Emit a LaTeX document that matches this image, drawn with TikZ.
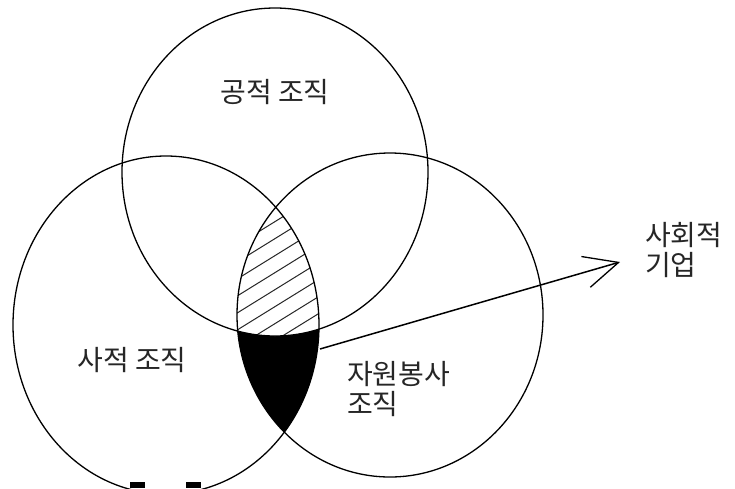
\documentclass[tikz,border=0pt]{standalone}
\usepackage{fontspec}
\newfontfamily\kr{Noto Sans CJK KR}
\usetikzlibrary{arrows.meta}
\tikzset{
  venn/.style={draw=black, line width=1.3pt},
  hatchline/.style={draw=black!85, line width=1pt},
  lbl/.style={font=\kr\fontsize{28}{30}\selectfont, text=black!85, inner sep=0pt},
  arrowline/.style={draw=black, line width=1.5pt, -{Straight Barb[length=34pt,width=32pt,line width=1.3pt]}}
}
\begin{document}
\begin{tikzpicture}[x=1pt,y=-1pt]
\useasboundingbox (0,0) rectangle (735,488);
\fill[white] (0,0) rectangle (735,488);
% lens region: black part, then hatched part inside the top circle
\begin{scope}
  \clip (166,325) ellipse [x radius=153pt, y radius=169pt];
  \clip (390,315) ellipse [x radius=153pt, y radius=162pt];
  \fill[black] (200,190) rectangle (360,450);
  \begin{scope}
    \clip (275,172) ellipse [x radius=153pt, y radius=164pt];
    \fill[white] (200,190) rectangle (360,450);
    \foreach \k in {-2,...,14} \draw[hatchline] (200,{200+17*\k}) -- ++(160,-99);
  \end{scope}
\end{scope}
% circles
\draw[venn] (275,172) ellipse [x radius=153pt, y radius=164pt];
\draw[venn] (166,325) ellipse [x radius=153pt, y radius=169pt];
\draw[venn] (390,315) ellipse [x radius=153pt, y radius=162pt];
\fill[black] (130,482) rectangle (145,488);
\fill[black] (186,482) rectangle (201,488);
% labels
\node[lbl] (pub) at (275,92) {공적 조직};
\node[lbl] (priv) at (132,360) {사적 조직};
\node[lbl, anchor=north west, align=left] (vol) at (347,361) {자원봉사\\조직};
\node[lbl, anchor=north west, align=left] (se) at (645,222) {사회적\\기업};
% arrow
\coordinate (arrS) at (320,349);
\coordinate (arrE) at (620,262);
\draw[arrowline] (arrS) -- (arrE);
\end{tikzpicture}
\end{document}
